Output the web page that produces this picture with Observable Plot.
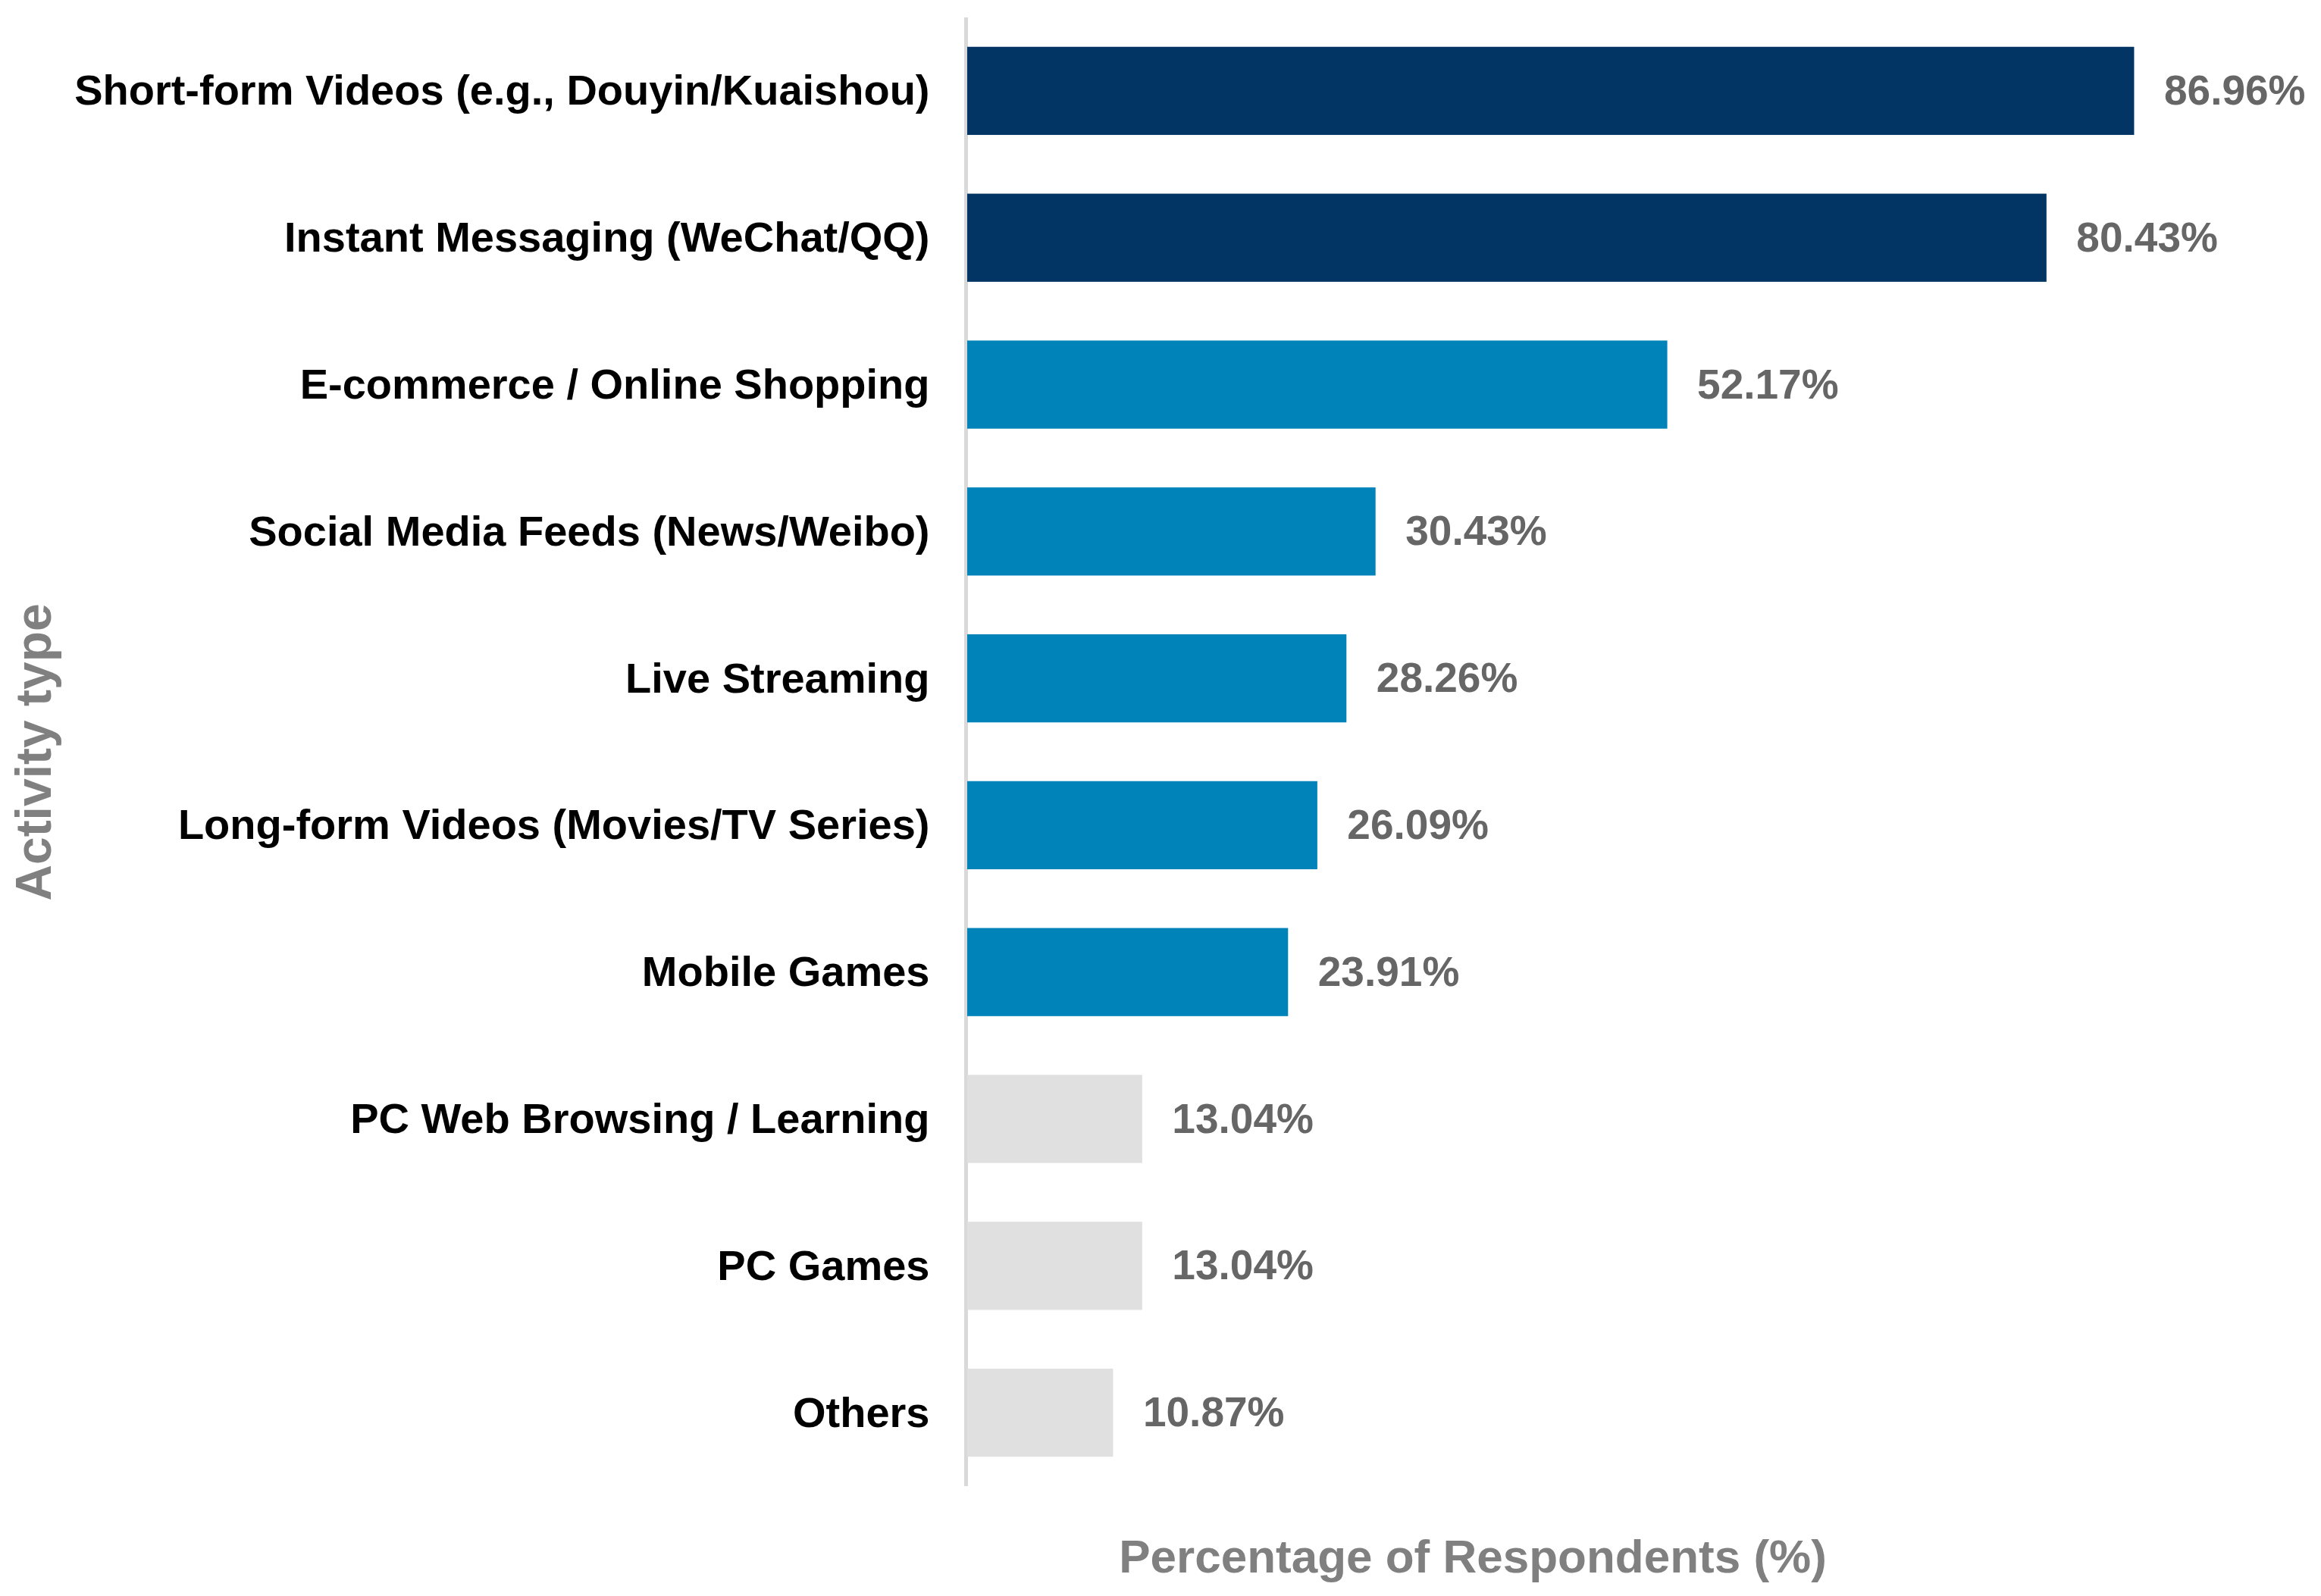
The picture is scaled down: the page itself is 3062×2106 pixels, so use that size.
<!DOCTYPE html>
<html>
<head>
<meta charset="utf-8">
<script src="https://cdn.jsdelivr.net/npm/d3@7"></script>
<script src="https://cdn.jsdelivr.net/npm/@observablehq/plot@0.6"></script>
<style>
  html, body { margin: 0; padding: 0; background: #ffffff; }
  #chart { width: 3062px; height: 2106px; }
</style>
</head>
<body>
<div id="chart"></div>
<script>
const categories = [
  "Short-form Videos (e.g., Douyin/Kuaishou)",
  "Instant Messaging (WeChat/QQ)",
  "E-commerce / Online Shopping",
  "Social Media Feeds (News/Weibo)",
  "Live Streaming",
  "Long-form Videos (Movies/TV Series)",
  "Mobile Games",
  "PC Web Browsing / Learning",
  "PC Games",
  "Others"
];
const values = [86.96, 80.43, 52.17, 30.43, 28.26, 26.09, 23.91, 13.04, 13.04, 10.87];
const tiers = ["top", "top", "mid", "mid", "mid", "mid", "mid", "low", "low", "low"];
const tierNames = ["top", "mid", "low"];
const tierColors = ["#023564", "#0083b9", "#e0e0e0"];
const xTitle = "Percentage of Respondents (%)";
const yTitle = "Activity type";

const rows = categories.map((c, i) => ({category: c, value: values[i], tier: tiers[i]}));
const font = "'Liberation Sans', Arial, Helvetica, sans-serif";

const chart = Plot.plot({
  width: 3062,
  height: 2106,
  marginTop: 23,
  marginBottom: 145,
  marginLeft: 1276,
  marginRight: 21,
  style: {fontFamily: font, background: "#ffffff"},
  x: {domain: [0, 99.7], axis: null},
  y: {domain: categories, axis: null, paddingInner: 0.4, paddingOuter: 0.2, round: false},
  color: {domain: tierNames, range: tierColors, legend: false},
  marks: [
    Plot.ruleX([0], {stroke: "#d9d9d9", strokeWidth: 5, dx: -2}),
    Plot.barX(rows, {x: "value", y: "category", fill: "tier"}),
    Plot.text(rows, {
      x: "value", y: "category",
      text: d => d.value.toFixed(2) + "%",
      textAnchor: "start", dx: 39,
      fill: "#666666", fontSize: 55, fontWeight: "bold"
    }),
    Plot.axisY({
      tickSize: 0, tickPadding: 50, fontSize: 56, fontWeight: "bold",
      fill: "#000000", label: null
    }),
    Plot.text([xTitle], {
      text: d => d, frameAnchor: "bottom", dx: -216, dy: 94,
      textAnchor: "middle", lineAnchor: "middle",
      fontSize: 62, fontWeight: "bold", fill: "#808080"
    }),
    Plot.text([yTitle], {
      text: d => d, frameAnchor: "left", dx: -1231,
      rotate: -90, textAnchor: "middle", lineAnchor: "middle",
      fontSize: 66, fontWeight: "bold", fill: "#808080"
    })
  ]
});
document.getElementById("chart").appendChild(chart);
</script>
</body>
</html>
